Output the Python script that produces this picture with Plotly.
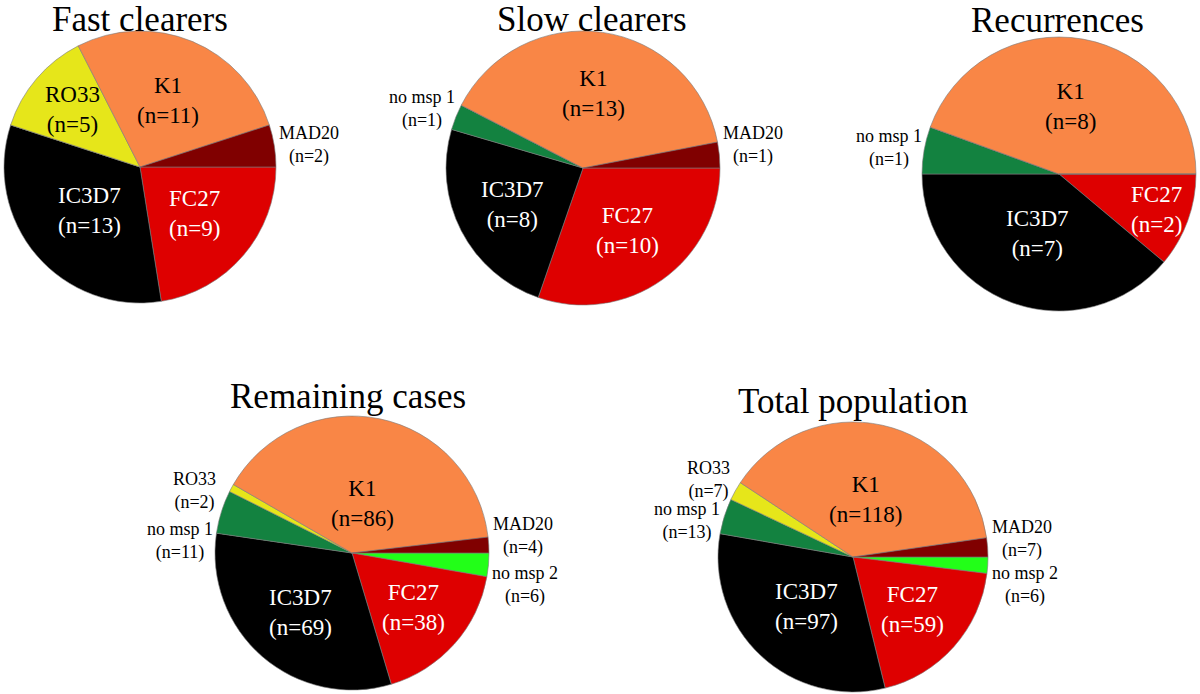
import math
import plotly.graph_objects as go

# ---------------- data ----------------
groups = ["Fast clearers", "Slow clearers", "Recurrences", "Remaining cases", "Total population"]
genotypes = ["MAD20", "K1", "RO33", "no msp 1", "IC3D7", "FC27", "no msp 2"]
fast_clearers = [2, 11, 5, 0, 13, 9, 0]
slow_clearers = [1, 13, 0, 1, 8, 10, 0]
recurrences = [0, 8, 0, 1, 7, 2, 0]
remaining_cases = [4, 86, 2, 11, 69, 38, 6]
total_population = [7, 118, 7, 13, 97, 59, 6]
values_by_group = [fast_clearers, slow_clearers, recurrences, remaining_cases, total_population]

# ---------------- style ----------------
W, H = 1200, 694
colors = {"MAD20": "#800000", "K1": "#F98646", "RO33": "#E6E61A", "no msp 1": "#138240",
          "IC3D7": "#000000", "FC27": "#DE0000", "no msp 2": "#22FF18"}
text_colors = {"K1": "black", "RO33": "black", "IC3D7": "white", "FC27": "white"}
FONT = "Liberation Serif, Times New Roman, serif"

# pie centre (px) and radius (px)
pie_geom = {
    "Fast clearers": (140, 167, 136),
    "Slow clearers": (583, 168, 137),
    "Recurrences": (1059, 174, 137),
    "Remaining cases": (352, 553, 137),
    "Total population": (853, 557, 135),
}
title_pos = {
    "Fast clearers": (140, 19),
    "Slow clearers": (592, 19),
    "Recurrences": (1057, 21),
    "Remaining cases": (348, 396),
    "Total population": (853, 402),
}
# inside labels: radial fraction
inside_r = {
    "Fast clearers": {"K1": 0.53, "RO33": 0.65, "IC3D7": 0.49, "FC27": 0.53},
    "Slow clearers": {"K1": 0.55, "IC3D7": 0.58, "FC27": 0.56},
    "Recurrences": {"K1": 0.5, "IC3D7": 0.46, "FC27": 0.76},
    "Remaining cases": {"K1": 0.37, "IC3D7": 0.57, "FC27": 0.6},
    "Total population": {"K1": 0.44, "IC3D7": 0.5, "FC27": 0.59},
}
# outside labels: (xshift, yshift) in px
outside_shift = {
    "Fast clearers": {"MAD20": (1, 0)},
    "Slow clearers": {"no msp 1": (3, 7), "MAD20": (0, 10)},
    "Recurrences": {"no msp 1": (2, 2)},
    "Remaining cases": {"RO33": (-12, -4), "no msp 1": (-4, -30), "MAD20": (0, 9), "no msp 2": (0, -20)},
    "Total population": {"RO33": (-2, 10), "no msp 1": (0, -5), "MAD20": (0, 8), "no msp 2": (0, -20)},
}

fig = go.Figure()
annotations = []

for g, vals in zip(groups, values_by_group):
    cx, cy, r = pie_geom[g]
    # slices run counter-clockwise from 3 o'clock: draw the reversed list clockwise
    fig.add_trace(go.Pie(
        labels=genotypes[::-1], values=vals[::-1], sort=False, direction="clockwise",
        rotation=90, textinfo="none", showlegend=False,
        marker=dict(colors=[colors[k] for k in genotypes[::-1]], line=dict(color="#7a7a7a", width=0.6)),
        domain=dict(x=[(cx - r) / W, (cx + r) / W], y=[1 - (cy + r) / H, 1 - (cy - r) / H]),
        hovertemplate="%{label}: %{value}<extra>" + g + "</extra>",
    ))
    tx, ty = title_pos[g]
    annotations.append(dict(text=g, x=tx / W, y=1 - ty / H, xref="paper", yref="paper",
                            xanchor="center", yanchor="middle", showarrow=False,
                            font=dict(family=FONT, size=35, color="black")))
    tot = sum(vals)
    cum = 0
    for k, v in zip(genotypes, vals):
        if v == 0:
            continue
        mid = 2 * math.pi * (cum + v / 2) / tot
        cum += v
        txt = f"{k}<br>(n={v})"
        if k in inside_r[g]:
            rho = inside_r[g][k] * r
            px = cx + rho * math.cos(mid)
            py = cy - rho * math.sin(mid)
            annotations.append(dict(text=txt, x=px / W, y=1 - py / H, xref="paper", yref="paper",
                                    xanchor="center", yanchor="middle", showarrow=False, align="center",
                                    font=dict(family=FONT, size=23, color=text_colors[k])))
        else:
            rho = r + 2
            px = cx + rho * math.cos(mid)
            py = cy - rho * math.sin(mid)
            xs, ys = outside_shift[g].get(k, (0, 0))
            annotations.append(dict(text=txt, x=px / W, y=1 - py / H, xref="paper", yref="paper",
                                    xanchor="left" if math.cos(mid) > 0 else "right", yanchor="middle",
                                    xshift=xs, yshift=ys, showarrow=False, align="center",
                                    font=dict(family=FONT, size=18, color="black")))

fig.update_layout(width=W, height=H, margin=dict(l=0, r=0, t=0, b=0),
                  paper_bgcolor="white", plot_bgcolor="white", annotations=annotations)
fig.write_html("out.html", config={"displayModeBar": False},
               post_script="document.body.style.margin='0';")
